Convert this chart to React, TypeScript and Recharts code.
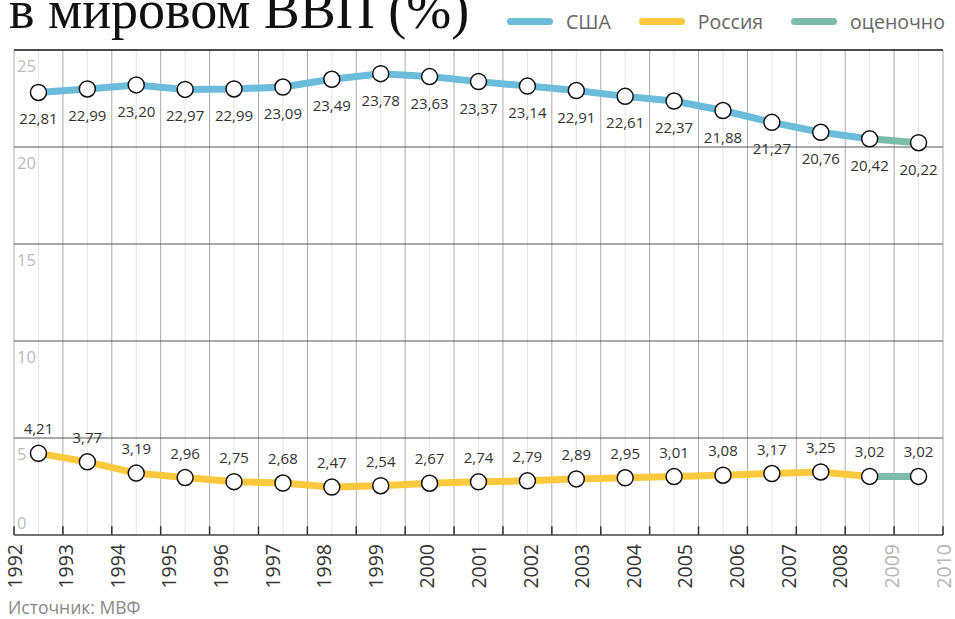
import { LineChart, Line, XAxis, YAxis, ReferenceLine, LabelList } from "recharts";

const YEARS = ["1992", "1993", "1994", "1995", "1996", "1997", "1998", "1999", "2000", "2001", "2002", "2003", "2004", "2005", "2006", "2007", "2008", "2009", "2010"];
const USA = [22.81, 22.99, 23.2, 22.97, 22.99, 23.09, 23.49, 23.78, 23.63, 23.37, 23.14, 22.91, 22.61, 22.37, 21.88, 21.27, 20.76, 20.42, 20.22];
const RUSSIA = [4.21, 3.77, 3.19, 2.96, 2.75, 2.68, 2.47, 2.54, 2.67, 2.74, 2.79, 2.89, 2.95, 3.01, 3.08, 3.17, 3.25, 3.02, 3.02];
const Y_TICKS = [0, 5, 10, 15, 20, 25];
const GREY_YEARS = ["2009", "2010"];
// index from which the values are estimates
const EST_FROM = 17;

const BLUE = "#6bbcdb";
const YELLOW = "#fcc93e";
const GREEN = "#7cbca8";
const FONT = "'Open Sans', sans-serif";

const N = USA.length;
const data = USA.map((u, i) => ({
  x: i + 0.5,
  usa: i <= EST_FROM ? u : null,
  usaEst: i >= EST_FROM ? u : null,
  usaAll: u,
  rus: i <= EST_FROM ? RUSSIA[i] : null,
  rusEst: i >= EST_FROM ? RUSSIA[i] : null,
  rusAll: RUSSIA[i],
}));

// year labels are spread evenly across the full width
const yearTicks = YEARS.map((_, i) => (i * N) / (YEARS.length - 1));

const fmt = (v: number) => v.toFixed(2).replace(".", ",");

const YearTick = ({ x, y, index }: any) => {
  const label = YEARS[index];
  return (
    <text
      x={x}
      y={y}
      transform={`rotate(-90, ${x}, ${y})`}
      textAnchor="end"
      dominantBaseline="central"
      fontFamily={FONT}
      fontSize={19.5}
      fill={GREY_YEARS.includes(label) ? "#b5b5b5" : "#333"}
    >
      {label}
    </text>
  );
};

const valueLabel = (v: number) => ({ viewBox }: any) => (
  <text
    x={viewBox.x + 3}
    y={v === 0 ? viewBox.y - 13 : viewBox.y + 15}
    dominantBaseline="central"
    fontFamily={FONT}
    fontSize={16.5}
    fill="#bbb"
  >
    {v}
  </text>
);

const labelBelow = ({ x, y, value }: any) => (
  <text x={x} y={y + 26} textAnchor="middle" dominantBaseline="central" fontFamily={FONT} fontSize={15} fill="#333">
    {fmt(value)}
  </text>
);

const labelAbove = ({ x, y, value }: any) => (
  <text x={x} y={y - 25} textAnchor="middle" dominantBaseline="central" fontFamily={FONT} fontSize={15} fill="#333">
    {fmt(value)}
  </text>
);

const dotStyle = { r: 8, fill: "#fff", stroke: "#111", strokeWidth: 1.5 };

const legendItems = [
  { name: "США", color: BLUE },
  { name: "Россия", color: YELLOW },
  { name: "оценочно", color: GREEN },
];

const gridStroke = (v: number) => (v === 25 ? "#111" : v === 0 ? "none" : "#555");

export default function App() {
  return (
    <div style={{ position: "absolute", left: 0, top: 0, width: 955, height: 619, overflow: "hidden", background: "#fff" }}>
      <div
        style={{
          position: "absolute",
          left: 9,
          top: -17,
          fontFamily: "'Liberation Serif', serif",
          fontSize: 54,
          lineHeight: "54px",
          color: "#111",
          whiteSpace: "nowrap",
        }}
      >
        в мировом ВВП (%)
      </div>

      <div style={{ position: "absolute", left: 507, top: 8, display: "flex", alignItems: "center", fontFamily: FONT, fontSize: 19.5, color: "#666" }}>
        {legendItems.map((it) => (
          <div key={it.name} style={{ display: "flex", alignItems: "center", marginRight: 28 }}>
            <span style={{ display: "inline-block", width: 46, height: 7, borderRadius: 4, background: it.color, marginRight: 13 }} />
            <span>{it.name}</span>
          </div>
        ))}
      </div>

      <LineChart width={955} height={619} data={data} margin={{ top: 50, left: 14, right: 12, bottom: 14 }} style={{ position: "absolute", left: 0, top: 0 }}>
        {data.map((d, i) => (
          <ReferenceLine key={"c" + i} x={d.x} stroke="#e4e4e4" strokeWidth={1} />
        ))}
        {Array.from({ length: N + 1 }, (_, i) => (
          <ReferenceLine key={"e" + i} x={i} stroke="#aaa" strokeWidth={1} />
        ))}
        {Array.from({ length: N + 1 }, (_, i) => (
          <ReferenceLine key={"t" + i} segment={[{ x: i, y: 0 }, { x: i, y: 0.45 }]} stroke="#333" strokeWidth={1.5} />
        ))}
        {Y_TICKS.map((v) => (
          <ReferenceLine key={"y" + v} y={v} stroke={gridStroke(v)} strokeWidth={v === 25 ? 1.5 : 1} label={valueLabel(v)} />
        ))}
        <XAxis
          type="number"
          dataKey="x"
          domain={[0, N]}
          ticks={yearTicks}
          interval={0}
          tickLine={false}
          tickSize={0}
          tickMargin={9}
          axisLine={{ stroke: "#444", strokeWidth: 1.5 }}
          height={70}
          tick={<YearTick />}
        />
        <YAxis
          type="number"
          domain={[0, 25]}
          ticks={Y_TICKS}
          width={0}
          tick={false}
          tickLine={false}
          axisLine={{ stroke: "#111", strokeWidth: 1.5 }}
        />
        <Line type="linear" dataKey="usa" stroke={BLUE} strokeWidth={7} dot={false} isAnimationActive={false} />
        <Line type="linear" dataKey="usaEst" stroke={GREEN} strokeWidth={7} dot={false} isAnimationActive={false} />
        <Line type="linear" dataKey="rus" stroke={YELLOW} strokeWidth={7} dot={false} isAnimationActive={false} />
        <Line type="linear" dataKey="rusEst" stroke={GREEN} strokeWidth={7} dot={false} isAnimationActive={false} />
        <Line type="linear" dataKey="usaAll" stroke="none" dot={dotStyle} isAnimationActive={false}>
          <LabelList dataKey="usaAll" content={labelBelow} />
        </Line>
        <Line type="linear" dataKey="rusAll" stroke="none" dot={dotStyle} isAnimationActive={false}>
          <LabelList dataKey="rusAll" content={labelAbove} />
        </Line>
      </LineChart>

      <div style={{ position: "absolute", left: 8, top: 597, fontFamily: FONT, fontSize: 17.5, lineHeight: "20px", color: "#888" }}>Источник: МВФ</div>
    </div>
  );
}
